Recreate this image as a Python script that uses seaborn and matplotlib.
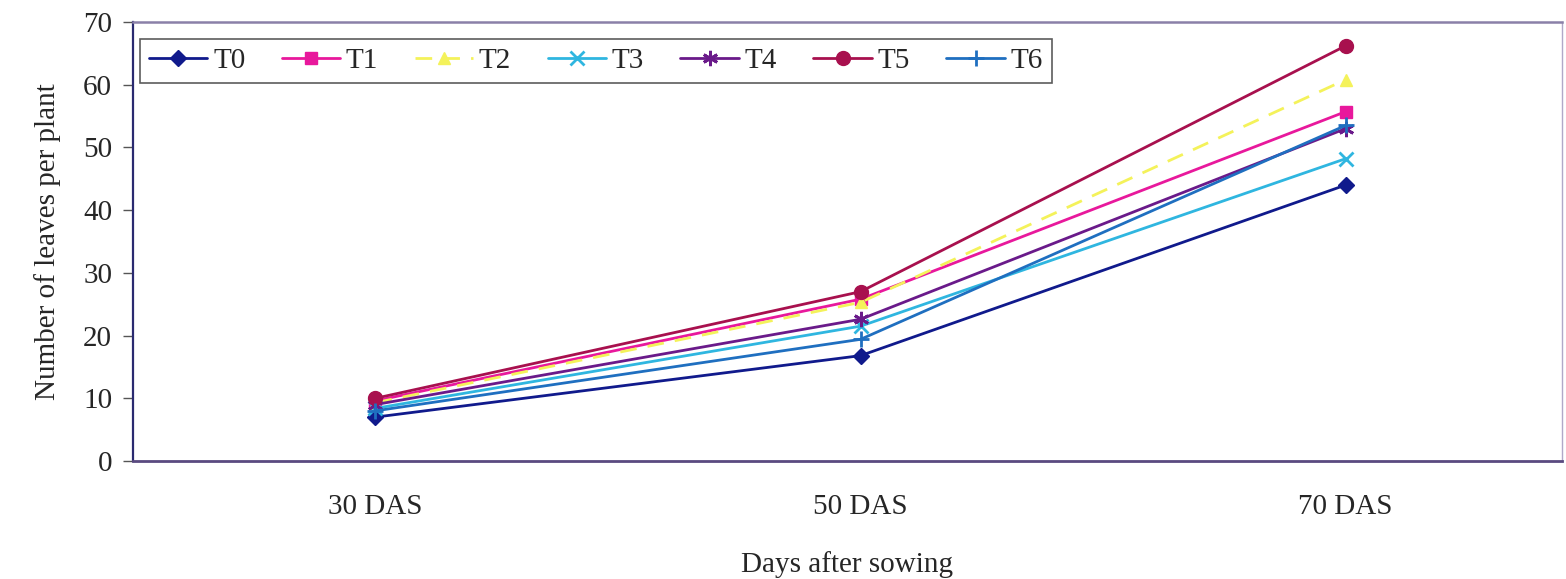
import matplotlib
matplotlib.use("Agg")
import matplotlib.pyplot as plt
import seaborn as sns
import pandas as pd

days = ["30 DAS", "50 DAS", "70 DAS"]
T0 = [7.0, 16.8, 44.0]
T1 = [9.6, 25.8, 55.7]
T2 = [9.3, 25.3, 60.8]
T3 = [8.4, 21.5, 48.2]
T4 = [9.0, 22.6, 53.0]
T5 = [10.0, 27.0, 66.2]
T6 = [8.0, 19.4, 53.5]
series = {"T0": T0, "T1": T1, "T2": T2, "T3": T3, "T4": T4, "T5": T5, "T6": T6}
yticks = [0, 10, 20, 30, 40, 50, 60, 70]

colors = {"T0": "#101a8c", "T1": "#e8189c", "T2": "#f4f25a", "T3": "#2fb6e0",
          "T4": "#6a1a8a", "T5": "#a8104e", "T6": "#1f6fc0"}
markers = {"T0": "D", "T1": "s", "T2": "^", "T3": "x", "T4": (6, 2, 0), "T5": "o", "T6": "+"}
msizes = {"T0": 8, "T1": 9, "T2": 9, "T3": 10, "T4": 11, "T5": 10, "T6": 12}
dashes = {"T0": "-", "T1": "-", "T2": (0, (6, 4)), "T3": "-", "T4": "-", "T5": "-", "T6": "-"}

rows = []
for name, vals in series.items():
    for d, v in zip(days, vals):
        rows.append({"Days": d, "Leaves": v, "Treatment": name})
df = pd.DataFrame(rows)

sns.set_theme(style="white")
plt.rcParams["font.family"] = ["Liberation Serif", "DejaVu Serif"]

fig = plt.figure(figsize=(15.66, 5.79), dpi=100)
ax = fig.add_axes([0.0849, 0.2038, 0.9125, 0.7582])

for name in series:
    sub = df[df["Treatment"] == name]
    sns.lineplot(data=sub, x="Days", y="Leaves", ax=ax, color=colors[name],
                 marker=markers[name], markersize=msizes[name], linewidth=2,
                 linestyle=dashes[name], markeredgecolor=colors[name],
                 markeredgewidth=2 if name in ("T3", "T4", "T6") else 1,
                 label=name, sort=False)

ax.set_xlim(-0.5, 2.446)
ax.set_ylim(0, 70)
ax.set_yticks(yticks)
ax.set_yticklabels([str(t) for t in yticks], fontsize=21)
ax.set_xticks([0, 1, 2])
ax.set_xticklabels(days, fontsize=21)
ax.set_xticks([-0.5, 0.5, 1.5], minor=True)
ax.tick_params(axis="x", which="major", length=0, pad=24)
ax.tick_params(axis="x", which="minor", length=7, width=1, color="#777")
ax.tick_params(axis="y", which="major", length=7, width=1, color="#555", left=True, pad=8)
ax.set_xlabel("Days after sowing", fontsize=21, labelpad=22)
ax.set_ylabel("Number of leaves per plant", fontsize=21, labelpad=16)

ax.spines["left"].set_color("#2a2a70")
ax.spines["left"].set_linewidth(1.6)
ax.spines["bottom"].set_color("#5a4a80")
ax.spines["bottom"].set_linewidth(2)
ax.spines["top"].set_color("#8a80a8")
ax.spines["top"].set_linewidth(1.8)
ax.spines["right"].set_color("#b0a8c8")
ax.spines["right"].set_linewidth(1)

leg = ax.legend(loc="upper left", bbox_to_anchor=(0.005, 0.962), ncol=7,
                fontsize=21, frameon=True, fancybox=False, handlelength=2.0,
                handletextpad=0.2, columnspacing=1.25, borderpad=0.3, borderaxespad=0)
leg.get_frame().set_edgecolor("#333")
leg.get_frame().set_linewidth(1.2)

fig.savefig("out.png", dpi=100)
